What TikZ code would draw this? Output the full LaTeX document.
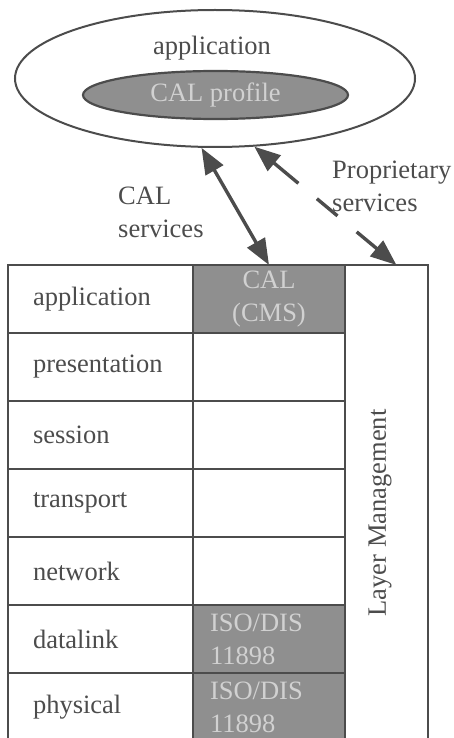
\documentclass[tikz,border=0pt]{standalone}
\usepackage{fontspec}
\setmainfont{Liberation Serif}
\usetikzlibrary{shapes,positioning,calc,arrows.meta}
\definecolor{ink}{gray}{0.3}
\definecolor{stipple}{gray}{0.56}
\definecolor{paleink}{gray}{0.82}

\begin{document}
\begin{tikzpicture}
  [x=1pt,y=-1pt,
   every node/.style={font=\fontsize{26.5}{33}\selectfont,text=ink},
   layerN/.style={draw=ink,line width=2.8pt,outer sep=0pt,inner xsep=25pt,
     minimum width=185pt,minimum height=68pt,text width=135pt,align=left},
   protoN/.style={draw=ink,line width=2.8pt,outer sep=0pt,
     minimum width=152pt,minimum height=68pt},
   isoN/.style={protoN,fill=stipple,text=paleink,inner xsep=17pt,
     text width=118pt,align=left},
   cmsN/.style={protoN,fill=stipple,text=paleink,align=center},
   appN/.style={ellipse,draw=ink,line width=2pt,minimum width=400pt,minimum height=137pt},
   profN/.style={ellipse,draw=ink,line width=2.2pt,fill=stipple,text=paleink,
     minimum width=265pt,minimum height=48pt,inner sep=0pt},
   lbl/.style={align=left,anchor=west,inner sep=0pt},
   svc/.style={draw=ink,line width=3.4pt},
   >={Triangle[length=26pt,width=20pt]},
   node distance=0pt]

  \useasboundingbox (0,0) rectangle (454,738);
  \clip (0,0) rectangle (454,738);

  % application with its CAL profile
  \node[appN] (appl) at (215,78.5) {};
  \node[anchor=base] (applt) at (212,55) {application};
  \node[profN] (prof) at (215.5,95) {CAL profile};

  % layers
  \node[layerN,anchor=north west] (l7) at (8,265) {application};
  \node[layerN,below=of l7] (l6) {presentation};
  \node[layerN,below=of l6] (l5) {session};
  \node[layerN,below=of l5] (l4) {transport};
  \node[layerN,below=of l4] (l3) {network};
  \node[layerN,below=of l3] (l2) {datalink};
  \node[layerN,below=of l2] (l1) {physical};

  \node[cmsN,right=of l7] (cms) {CAL\\(CMS)};
  \node[protoN,right=of l6] (p6) {};
  \node[protoN,right=of l5] (p5) {};
  \node[protoN,right=of l4] (p4) {};
  \node[protoN,right=of l3] (p3) {};
  \node[isoN,right=of l2] (iso2) {ISO/DIS\\11898};
  \node[isoN,right=of l1] (iso1) {ISO/DIS\\11898};

  \node[protoN,anchor=north west,minimum width=83pt,minimum height=476pt] (lm)
    at (cms.north east) {};
  \node[rotate=90] (lmt) at (380,513) {Layer Management};

  % services
  \coordinate (propB) at ($(lm.north west)!0.62!(lm.north east)$);
  \draw[svc,<->] (appl.-101) -- (cms.north);
  \draw[svc,<-] (appl.-60) -- ($(appl.-60)!0.31!(propB)$);
  \draw[svc] ($(appl.-60)!0.44!(propB)$) -- ($(appl.-60)!0.585!(propB)$);
  \draw[svc,->] ($(appl.-60)!0.72!(propB)$) -- (propB);

  \node[lbl] (calsvc) at (118,212) {CAL\\services};
  \node[lbl] (propsvc) at (332,186) {Proprietary\\services};

\end{tikzpicture}
\end{document}
